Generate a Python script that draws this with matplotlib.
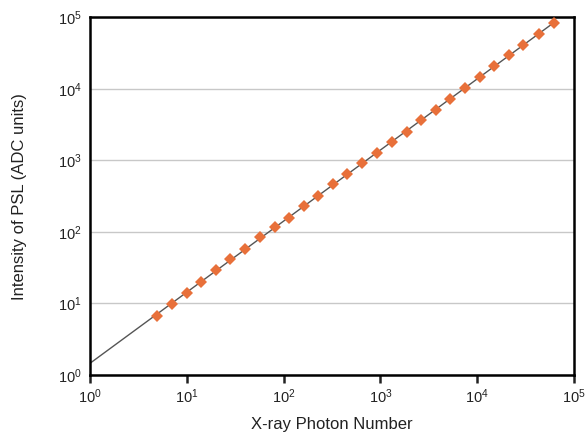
import matplotlib
matplotlib.use("Agg")
import matplotlib.pyplot as plt
import numpy as np

plt.rcParams['font.family'] = ['Liberation Sans', 'DejaVu Sans']
plt.rcParams['mathtext.default'] = 'regular'

# photon number vs PSL intensity
photons = [4.95, 7.0, 10.0, 14.1, 20.0, 28.1, 40.0, 57.0, 81.0, 114.0, 161.0, 228.0,
           322.0, 455.0, 641.0, 922.0, 1308.0, 1870.0, 2630.0, 3725.0, 5240.0, 7480.0,
           10690.0, 15000.0, 21460.0, 29950.0, 43500.0, 61700.0]
psl = [6.7, 9.9, 14.2, 20.2, 29.4, 41.5, 58.5, 84.3, 116.0, 159.0, 231.0, 322.0,
       465.0, 648.0, 923.0, 1261.0, 1797.0, 2530.0, 3680.0, 5080.0, 7240.0, 10300.0,
       14580.0, 20760.0, 29600.0, 41700.0, 59300.0, 84600.0]

# power-law fit in log space
b, a = np.polyfit(np.log10(photons), np.log10(psl), 1)
xfit = np.array([1.0, photons[-1]])
yfit = 10**a * xfit**b

fig = plt.figure(figsize=(5.86, 4.34), dpi=100)
ax = fig.add_axes([0.1536, 0.136, 0.8259, 0.8237])

ax.plot(xfit, yfit, '-', color='#555555', lw=1.0, zorder=2)
ax.plot(photons, psl, 'D', color='#E8703A', markersize=6, markeredgewidth=0, zorder=3)

ax.set_xscale('log')
ax.set_yscale('log')
ax.set_xlim(1, 1e5)
ax.set_ylim(1, 1e5)
ax.set_xticks([1e0, 1e1, 1e2, 1e3, 1e4, 1e5])
ax.set_yticks([1e0, 1e1, 1e2, 1e3, 1e4, 1e5])
ax.minorticks_off()

ax.yaxis.grid(True, color='#c8c8c8', lw=1.0)
ax.set_axisbelow(True)

for s in ax.spines.values():
    s.set_linewidth(1.8)
    s.set_color('black')

ax.tick_params(axis='x', direction='out', length=6, width=1.8, labelsize=10.5, pad=3, colors='#222222')
ax.tick_params(axis='y', length=0, labelsize=10.5, pad=6, colors='#222222')

ax.set_xlabel("X-ray Photon Number", fontsize=12, labelpad=8, color='#222222')
ax.set_ylabel("Intensity of PSL (ADC units)", fontsize=12, labelpad=22, color='#222222')

fig.savefig("out.png", dpi=100)
